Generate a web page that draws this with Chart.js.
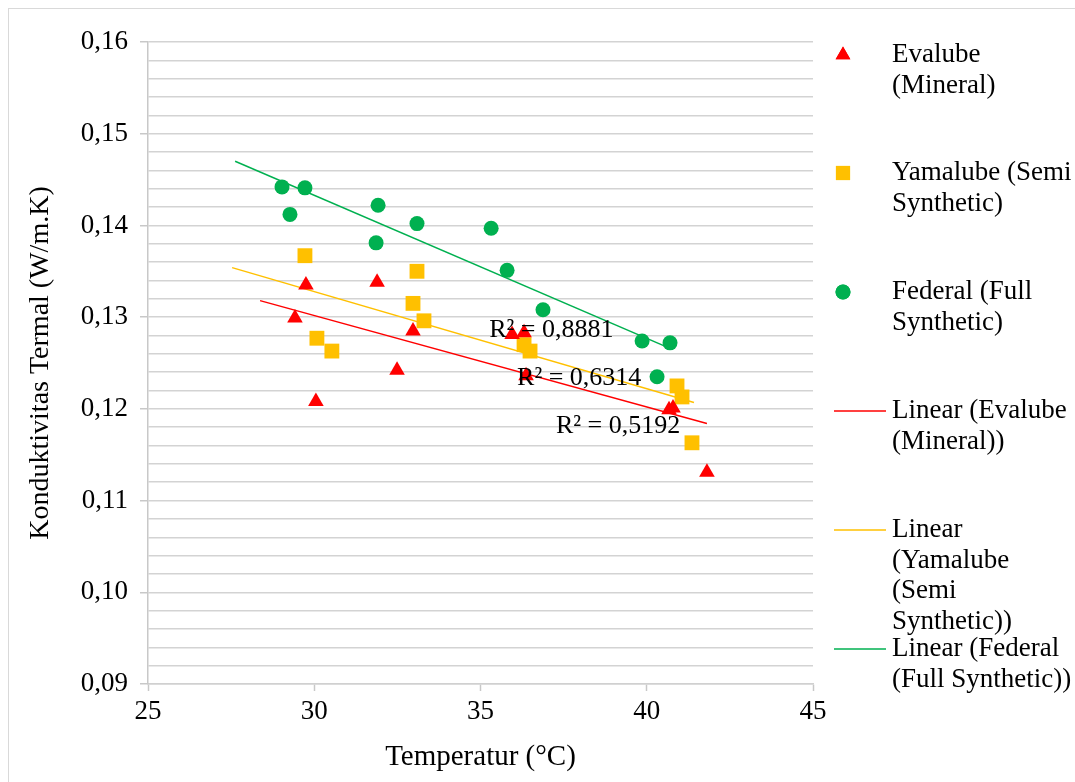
<!DOCTYPE html>
<html>
<head>
<meta charset="utf-8">
<script src="https://cdn.jsdelivr.net/npm/chart.js@4.4.1/dist/chart.umd.min.js"></script>
<style>
  html, body { margin: 0; padding: 0; background: #fff; }
  #wrap { width: 1075px; height: 782px; }
</style>
</head>
<body>
<div id="wrap"><canvas id="myChart" width="1075" height="782"></canvas></div>
<script>
// measured points (temperature °C, conductivity W/m.K)
const evalubeX = [29.75, 29.42, 30.05, 31.89, 32.97, 32.49, 35.95, 36.31, 36.37, 40.67, 40.79, 41.81];
const evalubeY = [0.1335, 0.1299, 0.1208, 0.1338, 0.1285, 0.1242, 0.1281, 0.1283, 0.1236, 0.1199, 0.1201, 0.1131];

const yamalubeX = [29.72, 30.08, 30.53, 32.97, 33.09, 33.30, 36.31, 36.49, 40.91, 41.06, 41.36];
const yamalubeY = [0.1367, 0.1277, 0.1263, 0.1315, 0.1350, 0.1296, 0.1270, 0.1263, 0.1225, 0.1213, 0.1163];

const federalX = [29.03, 29.72, 29.27, 31.92, 31.86, 33.09, 35.32, 35.80, 36.88, 39.86, 40.70, 40.31];
const federalY = [0.1442, 0.1441, 0.1412, 0.1422, 0.1381, 0.1402, 0.1397, 0.1351, 0.1308, 0.1274, 0.1272, 0.1235];

// trendline end points as drawn
const trendEvalubeX = [28.37, 41.81];
const trendEvalubeY = [0.1318, 0.1184];
const trendYamalubeX = [27.53, 41.42];
const trendYamalubeY = [0.1354, 0.1207];
const trendFederalX = [27.62, 40.70];
const trendFederalY = [0.1470, 0.1266];

const r2Labels = ['R² = 0,8881', 'R² = 0,6314', 'R² = 0,5192'];
const r2Pos = [[35.26, 0.1286], [36.10, 0.1234], [37.27, 0.1181]]; // left-edge x, middle y

const xTicks = [25, 30, 35, 40, 45];

const RED = '#FF0000', YELLOW = '#FFC000', GREEN = '#00B050';
const FONT = '"Liberation Serif", "Times New Roman", serif';

function pts(xs, ys) {
    return xs.map((x, i) => ({ x: x, y: ys[i] }));
}

function isMajor(v) {
    return Math.abs(v * 100 - Math.round(v * 100)) < 1e-6;
}

// legend + R² labels + frame
const extras = {
    id: 'extras',
    afterDraw(chart) {
        const ctx = chart.ctx;
        const xs = chart.scales.x, ys = chart.scales.y;
        ctx.save();

        ctx.strokeStyle = '#d9d9d9';
        ctx.lineWidth = 1;
        ctx.strokeRect(8.5, 8.5, 1100, 800);

        ctx.fillStyle = '#000';
        ctx.font = '26px ' + FONT;
        ctx.textBaseline = 'middle';
        ctx.textAlign = 'left';
        r2Labels.forEach((t, i) => {
            ctx.fillText(t, xs.getPixelForValue(r2Pos[i][0]), ys.getPixelForValue(r2Pos[i][1]));
        });

        ctx.font = '27px ' + FONT;
        const tx = 892;
        const entries = [
            { kind: 'triangle', color: RED, lines: ['Evalube', '(Mineral)'], y: 55 },
            { kind: 'rect', color: YELLOW, lines: ['Yamalube (Semi', 'Synthetic)'], y: 173 },
            { kind: 'circle', color: GREEN, lines: ['Federal (Full', 'Synthetic)'], y: 292 },
            { kind: 'line', color: RED, lines: ['Linear (Evalube', '(Mineral))'], y: 411 },
            { kind: 'line', color: YELLOW, lines: ['Linear', '(Yamalube', '(Semi', 'Synthetic))'], y: 530 },
            { kind: 'line', color: GREEN, lines: ['Linear (Federal', '(Full Synthetic))'], y: 649 }
        ];
        entries.forEach(e => {
            ctx.fillStyle = e.color;
            ctx.strokeStyle = e.color;
            if (e.kind === 'line') {
                ctx.lineWidth = 1.5;
                ctx.beginPath();
                ctx.moveTo(834, e.y);
                ctx.lineTo(886, e.y);
                ctx.stroke();
            } else {
                const r = e.kind === 'circle' ? 7.5 : (e.kind === 'rect' ? 10 : 8.5);
                Chart.helpers.drawPoint(ctx, { pointStyle: e.kind, radius: r, rotation: 0, borderWidth: 0 }, 843, e.y);
                ctx.fill();
            }
            ctx.fillStyle = '#000';
            e.lines.forEach((l, k) => ctx.fillText(l, tx, e.y + k * 30.5));
        });
        ctx.restore();
    }
};

const ctx = document.getElementById('myChart').getContext('2d');
const myChart = new Chart(ctx, {
    type: 'scatter',
    data: {
        datasets: [
            { label: 'Evalube (Mineral)', data: pts(evalubeX, evalubeY), pointStyle: 'triangle',
              pointRadius: 9, backgroundColor: RED, borderWidth: 0 },
            { label: 'Yamalube (Semi Synthetic)', data: pts(yamalubeX, yamalubeY), pointStyle: 'rect',
              pointRadius: 10.5, backgroundColor: YELLOW, borderWidth: 0 },
            { label: 'Federal (Full Synthetic)', data: pts(federalX, federalY), pointStyle: 'circle',
              pointRadius: 7.5, backgroundColor: GREEN, borderWidth: 0 },
            { label: 'Linear (Evalube (Mineral))', data: pts(trendEvalubeX, trendEvalubeY), showLine: true,
              pointRadius: 0, borderColor: RED, borderWidth: 1.5 },
            { label: 'Linear (Yamalube (Semi Synthetic))', data: pts(trendYamalubeX, trendYamalubeY), showLine: true,
              pointRadius: 0, borderColor: YELLOW, borderWidth: 1.5 },
            { label: 'Linear (Federal (Full Synthetic))', data: pts(trendFederalX, trendFederalY), showLine: true,
              pointRadius: 0, borderColor: GREEN, borderWidth: 1.5 }
        ]
    },
    options: {
        responsive: false,
        animation: false,
        layout: { padding: { left: 8, top: 42, right: 262, bottom: 0 } },
        plugins: { legend: { display: false }, tooltip: { enabled: false } },
        scales: {
            x: {
                type: 'linear',
                min: 25, max: 45,
                afterBuildTicks: s => { s.ticks = xTicks.map(v => ({ value: v })); },
                afterFit: s => { s.height = 98; },
                grid: { drawOnChartArea: false, tickLength: 7, tickColor: '#c8c8c8', tickWidth: 1.5 },
                border: { color: '#d0d0d0', width: 1.5 },
                ticks: { color: '#000', font: { family: FONT, size: 27 }, padding: 5, maxRotation: 0 },
                title: { display: true, text: 'Temperatur (°C)', color: '#000',
                         font: { family: FONT, size: 29 }, padding: { top: 0, bottom: 7 } }
            },
            y: {
                min: 0.09, max: 0.16,
                afterFit: s => { s.width = 140; },
                ticks: {
                    stepSize: 0.002,
                    autoSkip: false,
                    color: '#000',
                    font: { family: FONT, size: 27 },
                    padding: 12,
                    callback: v => isMajor(v) ? v.toFixed(2).replace('.', ',') : ''
                },
                grid: {
                    color: '#d3d3d3', lineWidth: 1.5, tickLength: 8, tickWidth: 1.5,
                    tickColor: c => (c.tick && isMajor(c.tick.value)) ? '#c8c8c8' : 'rgba(0,0,0,0)'
                },
                border: { color: '#c8c8c8', width: 1.5 },
                title: { display: true, text: 'Konduktivitas Termal (W/m.K)', color: '#000',
                         font: { family: FONT, size: 28 }, padding: { top: 16, bottom: 0 } }
            }
        }
    },
    plugins: [extras]
});
</script>
</body>
</html>
